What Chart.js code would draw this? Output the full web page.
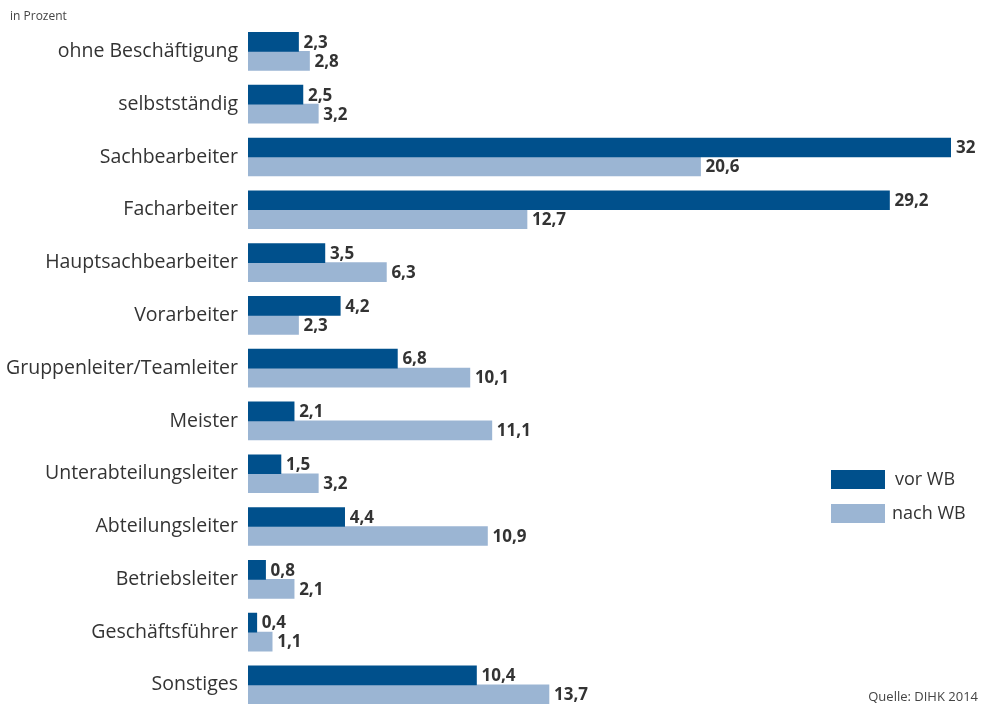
<!DOCTYPE html>
<html>
<head>
<meta charset="utf-8">
<script src="https://cdn.jsdelivr.net/npm/chart.js@4"></script>
<style>
html,body{margin:0;padding:0;background:#fff;overflow:hidden;}
#wrap{position:relative;width:981px;height:704px;overflow:hidden;}
</style>
</head>
<body>
<div id="wrap"><canvas id="c" width="981" height="725"></canvas></div>
<script>
const categories = ["ohne Beschäftigung","selbstständig","Sachbearbeiter","Facharbeiter","Hauptsachbearbeiter","Vorarbeiter","Gruppenleiter/Teamleiter","Meister","Unterabteilungsleiter","Abteilungsleiter","Betriebsleiter","Geschäftsführer","Sonstiges"];
const vorWB = [2.3,2.5,32,29.2,3.5,4.2,6.8,2.1,1.5,4.4,0.8,0.4,10.4];
const nachWB = [2.8,3.2,20.6,12.7,6.3,2.3,10.1,11.1,3.2,10.9,2.1,1.1,13.7];
const seriesNames = ["vor WB","nach WB"];
const unitLabel = "in Prozent";
const sourceLabel = "Quelle: DIHK 2014";

const DARK = "#00508c";
const LIGHT = "#9bb5d3";
const TEXT = "#333333";
const FONT = "'Open Sans', sans-serif";

const valueLabels = {
  id: "valueLabels",
  afterDatasetsDraw(chart) {
    const ctx = chart.ctx;
    ctx.save();
    ctx.font = "bold 17px " + FONT;
    ctx.fillStyle = TEXT;
    ctx.textBaseline = "middle";
    ctx.textAlign = "left";
    chart.data.datasets.forEach((ds, di) => {
      const meta = chart.getDatasetMeta(di);
      meta.data.forEach((bar, i) => {
        const txt = String(ds.data[i]).replace(".", ",");
        ctx.fillText(txt, bar.x + 5, bar.y + 1);
      });
    });
    ctx.restore();
  }
};

const extras = {
  id: "extras",
  afterDraw(chart) {
    const ctx = chart.ctx;
    ctx.save();
    ctx.fillStyle = "#444";
    ctx.font = "12px " + FONT;
    ctx.textBaseline = "middle";
    ctx.textAlign = "left";
    ctx.fillText(unitLabel, 10, 17);
    ctx.font = "13px " + FONT;
    ctx.textAlign = "right";
    ctx.fillText(sourceLabel, 978, 697);
    // legend
    const cols = [DARK, LIGHT];
    const ys = [470, 504];
    ctx.font = "18px " + FONT;
    ctx.textAlign = "left";
    seriesNames.forEach((n, i) => {
      ctx.fillStyle = cols[i];
      ctx.fillRect(831, ys[i], 54, 19);
      ctx.fillStyle = TEXT;
      ctx.fillText(n, i === 0 ? 895 : 892, ys[i] + 10);
    });
    ctx.restore();
  }
};

new Chart(document.getElementById("c"), {
  type: "bar",
  data: {
    labels: categories,
    datasets: [
      { label: seriesNames[0], data: vorWB, backgroundColor: DARK, barThickness: 19 },
      { label: seriesNames[1], data: nachWB, backgroundColor: LIGHT, barThickness: 19 }
    ]
  },
  options: {
    indexAxis: "y",
    responsive: false,
    animation: false,
    layout: { padding: { top: 25, right: 30, bottom: 0, left: 0 } },
    plugins: { legend: { display: false }, tooltip: { enabled: false } },
    scales: {
      x: {
        min: 0, max: 32,
        display: false,
        grid: { display: false }
      },
      y: {
        grid: { display: false, drawBorder: false },
        border: { display: false },
        ticks: { color: TEXT, font: { family: FONT, size: 19.5 }, padding: 2 },
        afterFit(scale) { scale.width = 248; }
      }
    }
  },
  plugins: [valueLabels, extras]
});
</script>
</body>
</html>
